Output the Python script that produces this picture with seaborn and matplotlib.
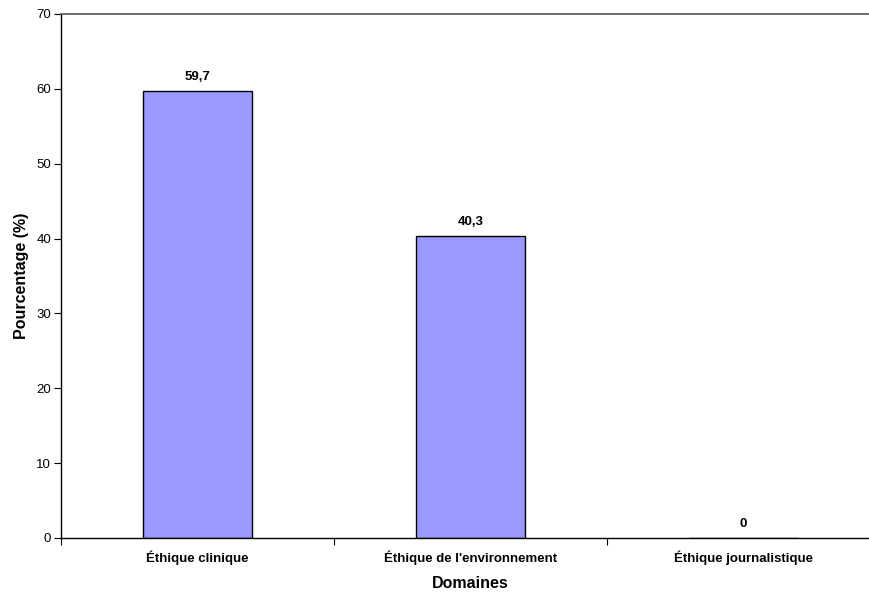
import matplotlib
matplotlib.use("Agg")
import matplotlib.pyplot as plt
import seaborn as sns
import pandas as pd
from matplotlib.ticker import FixedLocator

domaines = ["Éthique clinique", "Éthique de l'environnement", "Éthique journalistique"]
pourcentages = [59.7, 40.3, 0]
etiquettes = ["59,7", "40,3", "0"]

sns.set_style("white")
plt.rcParams['font.family'] = ['Liberation Sans', 'DejaVu Sans']
plt.rcParams.update({"text.color": "black", "axes.labelcolor": "black",
                     "xtick.color": "black", "ytick.color": "black"})

df = pd.DataFrame({"Domaines": domaines, "Pourcentage": pourcentages})

fig = plt.figure(figsize=(8.69, 5.92), dpi=100)
ax = fig.add_axes([61 / 869, 54 / 592, 819 / 869, 524 / 592])

sns.barplot(data=df, x="Domaines", y="Pourcentage", color="#9999FF",
            edgecolor="black", linewidth=1, width=0.4, saturation=1, ax=ax)

for i, (v, t) in enumerate(zip(pourcentages, etiquettes)):
    ax.annotate(t, (i, v), xytext=(0, 6), textcoords="offset points",
                ha="center", va="bottom", fontsize=9.5, fontweight="bold")

ax.set_xlim(-0.5, 2.5)
ax.set_ylim(0, 70)
ax.set_yticks(range(0, 71, 10))
ax.xaxis.set_minor_locator(FixedLocator([-0.5, 0.5, 1.5, 2.5]))
ax.tick_params(axis="x", which="major", length=0, pad=9, labelsize=9.5)
ax.tick_params(axis="x", which="minor", length=5, width=0.8, direction="out", bottom=True)
ax.tick_params(axis="y", length=5, width=0.8, direction="out", left=True, labelsize=9.5, pad=2)
for lbl in ax.get_xticklabels():
    lbl.set_fontweight("bold")

ax.set_xlabel("Domaines", fontsize=11.5, fontweight="bold", labelpad=8)
ax.set_ylabel("Pourcentage (%)", fontsize=11.5, fontweight="bold", labelpad=5)

for s in ["left", "bottom"]:
    ax.spines[s].set_color("black")
    ax.spines[s].set_linewidth(1)
ax.spines["top"].set_color("#555555")
ax.spines["top"].set_linewidth(1.2)
ax.spines["right"].set_visible(False)

fig.savefig("out.png", dpi=100)
plt.close(fig)
